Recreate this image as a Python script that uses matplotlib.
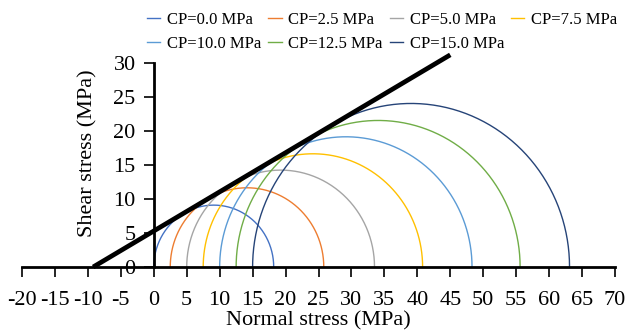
import matplotlib.pyplot as plt
import numpy as np

plt.rcParams['font.family'] = ['Liberation Serif', 'DejaVu Serif']
plt.rcParams['axes.unicode_minus'] = False

# confining pressure, minor and major principal stress (MPa)
cp_labels = ['CP=0.0 MPa', 'CP=2.5 MPa', 'CP=5.0 MPa', 'CP=7.5 MPa',
             'CP=10.0 MPa', 'CP=12.5 MPa', 'CP=15.0 MPa']
sigma3 = [0.0, 2.5, 5.0, 7.5, 10.0, 12.5, 15.0]
sigma1 = [18.2, 25.8, 33.5, 40.8, 48.3, 55.6, 63.1]
colors = ['#4472C4', '#ED7D31', '#A5A5A5', '#FFC000',
          '#5B9BD5', '#70AD47', '#264478']

# failure envelope end points
env_x = [-9.2, 45.0]
env_y = [0.0, 31.2]

fig = plt.figure(figsize=(6.27, 3.31), dpi=100)
ax = fig.add_axes([22 / 627, (331 - 267) / 331, (615 - 22) / 627, (267 - 63) / 331])

theta = np.linspace(0, np.pi, 300)
handles = []
for s3, s1, c, lab in zip(sigma3, sigma1, colors, cp_labels):
    cen = (s1 + s3) / 2
    r = (s1 - s3) / 2
    h, = ax.plot(cen + r * np.cos(theta), r * np.sin(theta), color=c, lw=1.0, label=lab)
    handles.append(h)

ax.plot(env_x, env_y, color='black', lw=3.4, solid_capstyle='butt', clip_on=False)

ax.set_xlim(-20, 70)
ax.set_ylim(0, 30)
ax.set_xticks(np.arange(-20, 71, 5))
ax.set_yticks(np.arange(0, 31, 5))

ax.spines['left'].set_position(('data', 0))
ax.spines['bottom'].set_position(('data', 0))
ax.spines['top'].set_visible(False)
ax.spines['right'].set_visible(False)
ax.spines['left'].set_linewidth(2)
ax.spines['bottom'].set_linewidth(2)
ax.tick_params(axis='both', direction='out', length=7, width=1.2, labelsize=16, color='black')
ax.tick_params(axis='x', pad=10)
ax.tick_params(axis='y', pad=6)

ax.set_xlabel('Normal stress (MPa)', fontsize=16, labelpad=1)
fig.text(88 / 627, 1 - 153 / 331, 'Shear stress (MPa)', rotation=90, fontsize=16,
         ha='center', va='center')

# legend fills row by row: reorder for matplotlib's column-major fill
order = [0, 4, 1, 5, 2, 6, 3]
fig.legend([handles[i] for i in order], [cp_labels[i] for i in order],
           loc='upper left', bbox_to_anchor=(147 / 627, 1 - 12 / 331), ncol=4,
           frameon=False, fontsize=12, handlelength=0.8, handletextpad=0.4,
           columnspacing=0.42, labelspacing=0.5, borderpad=0, borderaxespad=0)

fig.savefig('out.png', dpi=100)
